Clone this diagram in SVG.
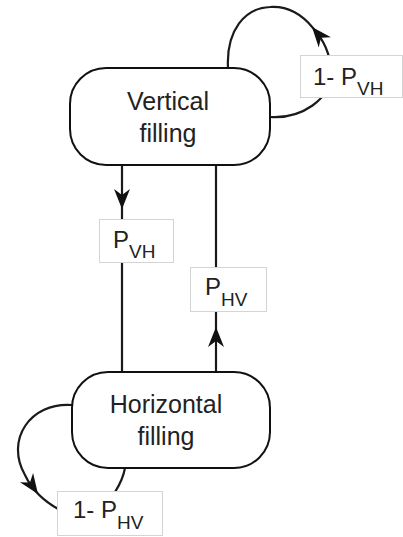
<svg xmlns="http://www.w3.org/2000/svg" xmlns:xlink="http://www.w3.org/1999/xlink" width="403" height="537" viewBox="0 0 403 537">
<style>
.node{fill:#fff;stroke:#111;stroke-width:2}
.edge{fill:none;stroke:#1a1a1a;stroke-width:2.2}
.lbl{fill:#fff;stroke:#d4d4d4;stroke-width:1}
.ntext{font-family:"Liberation Sans",Arial,sans-serif;font-size:25px;fill:#222;text-anchor:middle}
.ltext{font-family:"Liberation Sans",Arial,sans-serif;font-size:24px;fill:#222}
.sub{font-size:19px}
.ah{fill:#111}
</style>
<defs>
<path id="ah" d="M0,0 L-20,-8 L-14,0 L-20,8 Z"/>
</defs>
<g id="connectors">
<line class="edge" x1="122" y1="165" x2="122" y2="372"/>
<line class="edge" x1="216" y1="165" x2="216" y2="372"/>
<path class="edge" d="M270,117 C300,119 333,100 331,70 C330,52 322,38 313,28 C300,12 285,6 270,7 C245,8 226,30 228,68"/>
<path class="edge" d="M72,405 C30,402 5,440 25,475 C32,490 45,502 60,510 L100,512 C110,500 122,485 125,468"/>
<use href="#ah" class="ah" transform="translate(122,209) rotate(90)"/>
<use href="#ah" class="ah" transform="translate(216,327) rotate(-90)"/>
<use href="#ah" class="ah" transform="translate(312,27) rotate(-130)"/>
<use href="#ah" class="ah" transform="translate(38,494) rotate(55)"/>
</g>
<g id="label-pvh">
<rect class="lbl" x="99.5" y="219.5" width="74" height="43"/>
<text class="ltext" x="113" y="248">P<tspan class="sub" dy="10">VH</tspan></text>
</g>
<g id="label-phv">
<rect class="lbl" x="190.5" y="267.5" width="76" height="44"/>
<text class="ltext" x="205" y="295">P<tspan class="sub" dy="11">HV</tspan></text>
</g>
<g id="label-1-pvh">
<rect class="lbl" x="300.5" y="55.5" width="102" height="42"/>
<text class="ltext" x="313" y="85">1- P<tspan class="sub" dy="10">VH</tspan></text>
</g>
<g id="label-1-phv">
<rect class="lbl" x="57.5" y="491.5" width="105" height="44"/>
<text class="ltext" x="73" y="518">1- P<tspan class="sub" dy="11">HV</tspan></text>
</g>
<g id="vertical-filling">
<rect class="node" x="70" y="68" width="200" height="97" rx="36" ry="36"/>
<text class="ntext" x="168" y="110">Vertical</text>
<text class="ntext" x="168" y="142">filling</text>
</g>
<g id="horizontal-filling">
<rect class="node" x="72" y="372" width="198" height="96" rx="36" ry="36"/>
<text class="ntext" x="166" y="413">Horizontal</text>
<text class="ntext" x="166" y="445">filling</text>
</g>
</svg>
